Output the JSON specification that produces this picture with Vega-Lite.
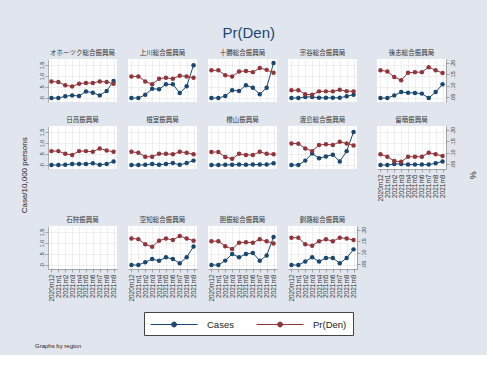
{
  "$schema": "https://vega.github.io/schema/vega-lite/v6.json",
  "background": "#E1E6EE",
  "padding": {"left": 20, "top": 25, "right": 10, "bottom": 6},
  "title": {"text": "Graphs by region", "orient": "bottom", "anchor": "start", "frame": "bounds", "fontSize": 6, "font": "Liberation Sans", "color": "#222", "offset": 7, "dx": 14},
  "data": {"values": [
    {"region":"オホーツク総合振興局","period":"2020m12","cases":0,"pden":0.119},
    {"region":"オホーツク総合振興局","period":"2021m1","cases":0,"pden":0.116},
    {"region":"オホーツク総合振興局","period":"2021m2","cases":0.08,"pden":0.102},
    {"region":"オホーツク総合振興局","period":"2021m3","cases":0.12,"pden":0.097},
    {"region":"オホーツク総合振興局","period":"2021m4","cases":0.09,"pden":0.109},
    {"region":"オホーツク総合振興局","period":"2021m5","cases":0.3,"pden":0.112},
    {"region":"オホーツク総合振興局","period":"2021m6","cases":0.24,"pden":0.112},
    {"region":"オホーツク総合振興局","period":"2021m7","cases":0.12,"pden":0.119},
    {"region":"オホーツク総合振興局","period":"2021m8","cases":0.32,"pden":0.116},
    {"region":"オホーツク総合振興局","period":"2021m9","cases":0.77,"pden":0.109},
    {"region":"上川総合振興局","period":"2020m12","cases":0,"pden":0.141},
    {"region":"上川総合振興局","period":"2021m1","cases":0,"pden":0.141},
    {"region":"上川総合振興局","period":"2021m2","cases":0.15,"pden":0.119},
    {"region":"上川総合振興局","period":"2021m3","cases":0.42,"pden":0.106},
    {"region":"上川総合振興局","period":"2021m4","cases":0.4,"pden":0.131},
    {"region":"上川総合振興局","period":"2021m5","cases":0.62,"pden":0.135},
    {"region":"上川総合振興局","period":"2021m6","cases":0.62,"pden":0.131},
    {"region":"上川総合振興局","period":"2021m7","cases":0.23,"pden":0.144},
    {"region":"上川総合振興局","period":"2021m8","cases":0.53,"pden":0.141},
    {"region":"上川総合振興局","period":"2021m9","cases":1.49,"pden":0.135},
    {"region":"十勝総合振興局","period":"2020m12","cases":0,"pden":0.168},
    {"region":"十勝総合振興局","period":"2021m1","cases":0,"pden":0.168},
    {"region":"十勝総合振興局","period":"2021m2","cases":0.09,"pden":0.146},
    {"region":"十勝総合振興局","period":"2021m3","cases":0.35,"pden":0.141},
    {"region":"十勝総合振興局","period":"2021m4","cases":0.32,"pden":0.163},
    {"region":"十勝総合振興局","period":"2021m5","cases":0.58,"pden":0.165},
    {"region":"十勝総合振興局","period":"2021m6","cases":0.47,"pden":0.16},
    {"region":"十勝総合振興局","period":"2021m7","cases":0.17,"pden":0.178},
    {"region":"十勝総合振興局","period":"2021m8","cases":0.47,"pden":0.17},
    {"region":"十勝総合振興局","period":"2021m9","cases":1.59,"pden":0.157},
    {"region":"宗谷総合振興局","period":"2020m12","cases":0,"pden":0.08},
    {"region":"宗谷総合振興局","period":"2021m1","cases":0,"pden":0.08},
    {"region":"宗谷総合振興局","period":"2021m2","cases":0.05,"pden":0.062},
    {"region":"宗谷総合振興局","period":"2021m3","cases":0.05,"pden":0.06},
    {"region":"宗谷総合振興局","period":"2021m4","cases":0.01,"pden":0.075},
    {"region":"宗谷総合振興局","period":"2021m5","cases":0.01,"pden":0.075},
    {"region":"宗谷総合振興局","period":"2021m6","cases":0.01,"pden":0.075},
    {"region":"宗谷総合振興局","period":"2021m7","cases":0.01,"pden":0.082},
    {"region":"宗谷総合振興局","period":"2021m8","cases":0.08,"pden":0.076},
    {"region":"宗谷総合振興局","period":"2021m9","cases":0.15,"pden":0.075},
    {"region":"後志総合振興局","period":"2020m12","cases":0,"pden":0.168},
    {"region":"後志総合振興局","period":"2021m1","cases":0,"pden":0.163},
    {"region":"後志総合振興局","period":"2021m2","cases":0.12,"pden":0.138},
    {"region":"後志総合振興局","period":"2021m3","cases":0.27,"pden":0.124},
    {"region":"後志総合振興局","period":"2021m4","cases":0.24,"pden":0.157},
    {"region":"後志総合振興局","period":"2021m5","cases":0.23,"pden":0.16},
    {"region":"後志総合振興局","period":"2021m6","cases":0.2,"pden":0.16},
    {"region":"後志総合振興局","period":"2021m7","cases":0,"pden":0.182},
    {"region":"後志総合振興局","period":"2021m8","cases":0.27,"pden":0.168},
    {"region":"後志総合振興局","period":"2021m9","cases":0.62,"pden":0.156},
    {"region":"日高振興局","period":"2020m12","cases":0,"pden":0.107},
    {"region":"日高振興局","period":"2021m1","cases":0,"pden":0.107},
    {"region":"日高振興局","period":"2021m2","cases":0.01,"pden":0.095},
    {"region":"日高振興局","period":"2021m3","cases":0.05,"pden":0.09},
    {"region":"日高振興局","period":"2021m4","cases":0.05,"pden":0.107},
    {"region":"日高振興局","period":"2021m5","cases":0.05,"pden":0.107},
    {"region":"日高振興局","period":"2021m6","cases":0.08,"pden":0.104},
    {"region":"日高振興局","period":"2021m7","cases":0.01,"pden":0.119},
    {"region":"日高振興局","period":"2021m8","cases":0.05,"pden":0.11},
    {"region":"日高振興局","period":"2021m9","cases":0.16,"pden":0.104},
    {"region":"根室振興局","period":"2020m12","cases":0,"pden":0.104},
    {"region":"根室振興局","period":"2021m1","cases":0,"pden":0.1},
    {"region":"根室振興局","period":"2021m2","cases":0.01,"pden":0.082},
    {"region":"根室振興局","period":"2021m3","cases":0.05,"pden":0.082},
    {"region":"根室振興局","period":"2021m4","cases":0.01,"pden":0.095},
    {"region":"根室振興局","period":"2021m5","cases":0.05,"pden":0.095},
    {"region":"根室振興局","period":"2021m6","cases":0.09,"pden":0.093},
    {"region":"根室振興局","period":"2021m7","cases":0.01,"pden":0.104},
    {"region":"根室振興局","period":"2021m8","cases":0.09,"pden":0.1},
    {"region":"根室振興局","period":"2021m9","cases":0.2,"pden":0.093},
    {"region":"檜山振興局","period":"2020m12","cases":0,"pden":0.103},
    {"region":"檜山振興局","period":"2021m1","cases":0,"pden":0.103},
    {"region":"檜山振興局","period":"2021m2","cases":0.01,"pden":0.081},
    {"region":"檜山振興局","period":"2021m3","cases":0.01,"pden":0.073},
    {"region":"檜山振興局","period":"2021m4","cases":0.02,"pden":0.095},
    {"region":"檜山振興局","period":"2021m5","cases":0.01,"pden":0.09},
    {"region":"檜山振興局","period":"2021m6","cases":0.02,"pden":0.09},
    {"region":"檜山振興局","period":"2021m7","cases":0.02,"pden":0.104},
    {"region":"檜山振興局","period":"2021m8","cases":0.02,"pden":0.095},
    {"region":"檜山振興局","period":"2021m9","cases":0.08,"pden":0.093},
    {"region":"渡島総合振興局","period":"2020m12","cases":0,"pden":0.141},
    {"region":"渡島総合振興局","period":"2021m1","cases":0,"pden":0.14},
    {"region":"渡島総合振興局","period":"2021m2","cases":0.2,"pden":0.119},
    {"region":"渡島総合振興局","period":"2021m3","cases":0.52,"pden":0.107},
    {"region":"渡島総合振興局","period":"2021m4","cases":0.31,"pden":0.134},
    {"region":"渡島総合振興局","period":"2021m5","cases":0.39,"pden":0.137},
    {"region":"渡島総合振興局","period":"2021m6","cases":0.47,"pden":0.134},
    {"region":"渡島総合振興局","period":"2021m7","cases":0.16,"pden":0.148},
    {"region":"渡島総合振興局","period":"2021m8","cases":0.63,"pden":0.141},
    {"region":"渡島総合振興局","period":"2021m9","cases":1.5,"pden":0.132},
    {"region":"留萌振興局","period":"2020m12","cases":0,"pden":0.093},
    {"region":"留萌振興局","period":"2021m1","cases":0,"pden":0.082},
    {"region":"留萌振興局","period":"2021m2","cases":0.05,"pden":0.063},
    {"region":"留萌振興局","period":"2021m3","cases":0.05,"pden":0.06},
    {"region":"留萌振興局","period":"2021m4","cases":0.02,"pden":0.082},
    {"region":"留萌振興局","period":"2021m5","cases":0.02,"pden":0.082},
    {"region":"留萌振興局","period":"2021m6","cases":0.02,"pden":0.082},
    {"region":"留萌振興局","period":"2021m7","cases":0.02,"pden":0.1},
    {"region":"留萌振興局","period":"2021m8","cases":0.08,"pden":0.093},
    {"region":"留萌振興局","period":"2021m9","cases":0.16,"pden":0.085},
    {"region":"空知総合振興局","period":"2020m12","cases":0,"pden":0.163},
    {"region":"空知総合振興局","period":"2021m1","cases":0,"pden":0.16},
    {"region":"空知総合振興局","period":"2021m2","cases":0.13,"pden":0.137},
    {"region":"空知総合振興局","period":"2021m3","cases":0.27,"pden":0.126},
    {"region":"空知総合振興局","period":"2021m4","cases":0.19,"pden":0.153},
    {"region":"空知総合振興局","period":"2021m5","cases":0.35,"pden":0.163},
    {"region":"空知総合振興局","period":"2021m6","cases":0.27,"pden":0.156},
    {"region":"空知総合振興局","period":"2021m7","cases":0.08,"pden":0.174},
    {"region":"空知総合振興局","period":"2021m8","cases":0.35,"pden":0.163},
    {"region":"空知総合振興局","period":"2021m9","cases":0.84,"pden":0.153},
    {"region":"胆振総合振興局","period":"2020m12","cases":0,"pden":0.151},
    {"region":"胆振総合振興局","period":"2021m1","cases":0,"pden":0.151},
    {"region":"胆振総合振興局","period":"2021m2","cases":0.2,"pden":0.129},
    {"region":"胆振総合振興局","period":"2021m3","cases":0.5,"pden":0.116},
    {"region":"胆振総合振興局","period":"2021m4","cases":0.35,"pden":0.144},
    {"region":"胆振総合振興局","period":"2021m5","cases":0.5,"pden":0.146},
    {"region":"胆振総合振興局","period":"2021m6","cases":0.55,"pden":0.144},
    {"region":"胆振総合振興局","period":"2021m7","cases":0.19,"pden":0.159},
    {"region":"胆振総合振興局","period":"2021m8","cases":0.43,"pden":0.151},
    {"region":"胆振総合振興局","period":"2021m9","cases":1.27,"pden":0.141},
    {"region":"釧路総合振興局","period":"2020m12","cases":0,"pden":0.166},
    {"region":"釧路総合振興局","period":"2021m1","cases":0,"pden":0.166},
    {"region":"釧路総合振興局","period":"2021m2","cases":0.16,"pden":0.137},
    {"region":"釧路総合振興局","period":"2021m3","cases":0.35,"pden":0.131},
    {"region":"釧路総合振興局","period":"2021m4","cases":0.16,"pden":0.151},
    {"region":"釧路総合振興局","period":"2021m5","cases":0.32,"pden":0.159},
    {"region":"釧路総合振興局","period":"2021m6","cases":0.32,"pden":0.151},
    {"region":"釧路総合振興局","period":"2021m7","cases":0.08,"pden":0.166},
    {"region":"釧路総合振興局","period":"2021m8","cases":0.32,"pden":0.163},
    {"region":"釧路総合振興局","period":"2021m9","cases":0.71,"pden":0.156}
  ]},
  "vconcat": [{
    "title": {"text": "Pr(Den)", "anchor": "middle", "frame": "bounds", "fontSize": 15, "font": "Liberation Sans", "color": "#1a476f", "offset": 9},
    "vconcat": [{
      "title": {"text": "%", "orient": "right", "anchor": "middle", "frame": "bounds", "fontSize": 9, "font": "Liberation Sans", "color": "#222", "offset": 12},
      "vconcat": [{
        "title": {"text": "Case/10,000 persons", "orient": "left", "anchor": "middle", "frame": "bounds", "fontSize": 8, "font": "Liberation Sans", "color": "#222", "offset": 10},
        "columns": 5,
        "spacing": {"column": 10, "row": 14},
        "concat": [
          {"title": "オホーツク総合振興局", "transform": [{"filter": "datum.region == 'オホーツク総合振興局'"}], "width": 69, "height": 43, "resolve": {"scale": {"y": "independent"}},
           "layer": [
            {"mark": {"type": "line", "strokeWidth": 1, "point": {"filled": true, "size": 20}}, "encoding": {
              "x": {"field": "period", "type": "ordinal", "scale": {"domain": ["2020m12","2021m1","2021m2","2021m3","2021m4","2021m5","2021m6","2021m7","2021m8","2021m9"], "padding": 0.5}, "axis": {"title": null, "labels": false, "ticks": false, "domain": false, "grid": true}},
              "y": {"field": "cases", "type": "quantitative", "scale": {"domain": [-0.18, 1.77], "nice": false, "zero": false}, "axis": {"title": null, "values": [0, 0.5, 1, 1.5], "labelAngle": -90, "labelExpr": "replace(datum.label, '0.', '.')", "grid": true}},
              "color": {"datum": "Cases", "type": "nominal", "legend": {"title": null}}}},
            {"mark": {"type": "line", "strokeWidth": 1, "point": {"filled": true, "size": 20}}, "encoding": {
              "x": {"field": "period", "type": "ordinal"},
              "y": {"field": "pden", "type": "quantitative", "scale": {"domain": [0.028, 0.218], "nice": false, "zero": false}, "axis": null},
              "color": {"datum": "Pr(Den)", "type": "nominal", "legend": {"title": null}}}}
          ]},
          {"title": "上川総合振興局", "transform": [{"filter": "datum.region == '上川総合振興局'"}], "width": 69, "height": 43, "resolve": {"scale": {"y": "independent"}},
           "layer": [
            {"mark": {"type": "line", "strokeWidth": 1, "point": {"filled": true, "size": 20}}, "encoding": {
              "x": {"field": "period", "type": "ordinal", "scale": {"domain": ["2020m12","2021m1","2021m2","2021m3","2021m4","2021m5","2021m6","2021m7","2021m8","2021m9"], "padding": 0.5}, "axis": {"title": null, "labels": false, "ticks": false, "domain": false, "grid": true}},
              "y": {"field": "cases", "type": "quantitative", "scale": {"domain": [-0.18, 1.77], "nice": false, "zero": false}, "axis": {"title": null, "values": [0, 0.5, 1, 1.5], "labels": false, "ticks": false, "domain": false, "grid": true}},
              "color": {"datum": "Cases", "type": "nominal", "legend": {"title": null}}}},
            {"mark": {"type": "line", "strokeWidth": 1, "point": {"filled": true, "size": 20}}, "encoding": {
              "x": {"field": "period", "type": "ordinal"},
              "y": {"field": "pden", "type": "quantitative", "scale": {"domain": [0.028, 0.218], "nice": false, "zero": false}, "axis": null},
              "color": {"datum": "Pr(Den)", "type": "nominal", "legend": {"title": null}}}}
          ]},
          {"title": "十勝総合振興局", "transform": [{"filter": "datum.region == '十勝総合振興局'"}], "width": 69, "height": 43, "resolve": {"scale": {"y": "independent"}},
           "layer": [
            {"mark": {"type": "line", "strokeWidth": 1, "point": {"filled": true, "size": 20}}, "encoding": {
              "x": {"field": "period", "type": "ordinal", "scale": {"domain": ["2020m12","2021m1","2021m2","2021m3","2021m4","2021m5","2021m6","2021m7","2021m8","2021m9"], "padding": 0.5}, "axis": {"title": null, "labels": false, "ticks": false, "domain": false, "grid": true}},
              "y": {"field": "cases", "type": "quantitative", "scale": {"domain": [-0.18, 1.77], "nice": false, "zero": false}, "axis": {"title": null, "values": [0, 0.5, 1, 1.5], "labels": false, "ticks": false, "domain": false, "grid": true}},
              "color": {"datum": "Cases", "type": "nominal", "legend": {"title": null}}}},
            {"mark": {"type": "line", "strokeWidth": 1, "point": {"filled": true, "size": 20}}, "encoding": {
              "x": {"field": "period", "type": "ordinal"},
              "y": {"field": "pden", "type": "quantitative", "scale": {"domain": [0.028, 0.218], "nice": false, "zero": false}, "axis": null},
              "color": {"datum": "Pr(Den)", "type": "nominal", "legend": {"title": null}}}}
          ]},
          {"title": "宗谷総合振興局", "transform": [{"filter": "datum.region == '宗谷総合振興局'"}], "width": 69, "height": 43, "resolve": {"scale": {"y": "independent"}},
           "layer": [
            {"mark": {"type": "line", "strokeWidth": 1, "point": {"filled": true, "size": 20}}, "encoding": {
              "x": {"field": "period", "type": "ordinal", "scale": {"domain": ["2020m12","2021m1","2021m2","2021m3","2021m4","2021m5","2021m6","2021m7","2021m8","2021m9"], "padding": 0.5}, "axis": {"title": null, "labels": false, "ticks": false, "domain": false, "grid": true}},
              "y": {"field": "cases", "type": "quantitative", "scale": {"domain": [-0.18, 1.77], "nice": false, "zero": false}, "axis": {"title": null, "values": [0, 0.5, 1, 1.5], "labels": false, "ticks": false, "domain": false, "grid": true}},
              "color": {"datum": "Cases", "type": "nominal", "legend": {"title": null}}}},
            {"mark": {"type": "line", "strokeWidth": 1, "point": {"filled": true, "size": 20}}, "encoding": {
              "x": {"field": "period", "type": "ordinal"},
              "y": {"field": "pden", "type": "quantitative", "scale": {"domain": [0.028, 0.218], "nice": false, "zero": false}, "axis": null},
              "color": {"datum": "Pr(Den)", "type": "nominal", "legend": {"title": null}}}}
          ]},
          {"title": "後志総合振興局", "transform": [{"filter": "datum.region == '後志総合振興局'"}], "width": 69, "height": 43, "resolve": {"scale": {"y": "independent"}},
           "layer": [
            {"mark": {"type": "line", "strokeWidth": 1, "point": {"filled": true, "size": 20}}, "encoding": {
              "x": {"field": "period", "type": "ordinal", "scale": {"domain": ["2020m12","2021m1","2021m2","2021m3","2021m4","2021m5","2021m6","2021m7","2021m8","2021m9"], "padding": 0.5}, "axis": {"title": null, "labels": false, "ticks": false, "domain": false, "grid": true}},
              "y": {"field": "cases", "type": "quantitative", "scale": {"domain": [-0.18, 1.77], "nice": false, "zero": false}, "axis": {"title": null, "values": [0, 0.5, 1, 1.5], "labels": false, "ticks": false, "domain": false, "grid": true}},
              "color": {"datum": "Cases", "type": "nominal", "legend": {"title": null}}}},
            {"mark": {"type": "line", "strokeWidth": 1, "point": {"filled": true, "size": 20}}, "encoding": {
              "x": {"field": "period", "type": "ordinal"},
              "y": {"field": "pden", "type": "quantitative", "scale": {"domain": [0.028, 0.218], "nice": false, "zero": false}, "axis": {"title": null, "orient": "right", "values": [0.05, 0.1, 0.15, 0.2], "labelAngle": -90, "labelExpr": "replace(datum.label, '0.', '.')", "grid": false}},
              "color": {"datum": "Pr(Den)", "type": "nominal", "legend": {"title": null}}}}
          ]},
          {"title": "日高振興局", "transform": [{"filter": "datum.region == '日高振興局'"}], "width": 69, "height": 43, "resolve": {"scale": {"y": "independent"}},
           "layer": [
            {"mark": {"type": "line", "strokeWidth": 1, "point": {"filled": true, "size": 20}}, "encoding": {
              "x": {"field": "period", "type": "ordinal", "scale": {"domain": ["2020m12","2021m1","2021m2","2021m3","2021m4","2021m5","2021m6","2021m7","2021m8","2021m9"], "padding": 0.5}, "axis": {"title": null, "labels": false, "ticks": false, "domain": false, "grid": true}},
              "y": {"field": "cases", "type": "quantitative", "scale": {"domain": [-0.18, 1.77], "nice": false, "zero": false}, "axis": {"title": null, "values": [0, 0.5, 1, 1.5], "labelAngle": -90, "labelExpr": "replace(datum.label, '0.', '.')", "grid": true}},
              "color": {"datum": "Cases", "type": "nominal", "legend": {"title": null}}}},
            {"mark": {"type": "line", "strokeWidth": 1, "point": {"filled": true, "size": 20}}, "encoding": {
              "x": {"field": "period", "type": "ordinal"},
              "y": {"field": "pden", "type": "quantitative", "scale": {"domain": [0.028, 0.218], "nice": false, "zero": false}, "axis": null},
              "color": {"datum": "Pr(Den)", "type": "nominal", "legend": {"title": null}}}}
          ]},
          {"title": "根室振興局", "transform": [{"filter": "datum.region == '根室振興局'"}], "width": 69, "height": 43, "resolve": {"scale": {"y": "independent"}},
           "layer": [
            {"mark": {"type": "line", "strokeWidth": 1, "point": {"filled": true, "size": 20}}, "encoding": {
              "x": {"field": "period", "type": "ordinal", "scale": {"domain": ["2020m12","2021m1","2021m2","2021m3","2021m4","2021m5","2021m6","2021m7","2021m8","2021m9"], "padding": 0.5}, "axis": {"title": null, "labels": false, "ticks": false, "domain": false, "grid": true}},
              "y": {"field": "cases", "type": "quantitative", "scale": {"domain": [-0.18, 1.77], "nice": false, "zero": false}, "axis": {"title": null, "values": [0, 0.5, 1, 1.5], "labels": false, "ticks": false, "domain": false, "grid": true}},
              "color": {"datum": "Cases", "type": "nominal", "legend": {"title": null}}}},
            {"mark": {"type": "line", "strokeWidth": 1, "point": {"filled": true, "size": 20}}, "encoding": {
              "x": {"field": "period", "type": "ordinal"},
              "y": {"field": "pden", "type": "quantitative", "scale": {"domain": [0.028, 0.218], "nice": false, "zero": false}, "axis": null},
              "color": {"datum": "Pr(Den)", "type": "nominal", "legend": {"title": null}}}}
          ]},
          {"title": "檜山振興局", "transform": [{"filter": "datum.region == '檜山振興局'"}], "width": 69, "height": 43, "resolve": {"scale": {"y": "independent"}},
           "layer": [
            {"mark": {"type": "line", "strokeWidth": 1, "point": {"filled": true, "size": 20}}, "encoding": {
              "x": {"field": "period", "type": "ordinal", "scale": {"domain": ["2020m12","2021m1","2021m2","2021m3","2021m4","2021m5","2021m6","2021m7","2021m8","2021m9"], "padding": 0.5}, "axis": {"title": null, "labels": false, "ticks": false, "domain": false, "grid": true}},
              "y": {"field": "cases", "type": "quantitative", "scale": {"domain": [-0.18, 1.77], "nice": false, "zero": false}, "axis": {"title": null, "values": [0, 0.5, 1, 1.5], "labels": false, "ticks": false, "domain": false, "grid": true}},
              "color": {"datum": "Cases", "type": "nominal", "legend": {"title": null}}}},
            {"mark": {"type": "line", "strokeWidth": 1, "point": {"filled": true, "size": 20}}, "encoding": {
              "x": {"field": "period", "type": "ordinal"},
              "y": {"field": "pden", "type": "quantitative", "scale": {"domain": [0.028, 0.218], "nice": false, "zero": false}, "axis": null},
              "color": {"datum": "Pr(Den)", "type": "nominal", "legend": {"title": null}}}}
          ]},
          {"title": "渡島総合振興局", "transform": [{"filter": "datum.region == '渡島総合振興局'"}], "width": 69, "height": 43, "resolve": {"scale": {"y": "independent"}},
           "layer": [
            {"mark": {"type": "line", "strokeWidth": 1, "point": {"filled": true, "size": 20}}, "encoding": {
              "x": {"field": "period", "type": "ordinal", "scale": {"domain": ["2020m12","2021m1","2021m2","2021m3","2021m4","2021m5","2021m6","2021m7","2021m8","2021m9"], "padding": 0.5}, "axis": {"title": null, "labels": false, "ticks": false, "domain": false, "grid": true}},
              "y": {"field": "cases", "type": "quantitative", "scale": {"domain": [-0.18, 1.77], "nice": false, "zero": false}, "axis": {"title": null, "values": [0, 0.5, 1, 1.5], "labels": false, "ticks": false, "domain": false, "grid": true}},
              "color": {"datum": "Cases", "type": "nominal", "legend": {"title": null}}}},
            {"mark": {"type": "line", "strokeWidth": 1, "point": {"filled": true, "size": 20}}, "encoding": {
              "x": {"field": "period", "type": "ordinal"},
              "y": {"field": "pden", "type": "quantitative", "scale": {"domain": [0.028, 0.218], "nice": false, "zero": false}, "axis": null},
              "color": {"datum": "Pr(Den)", "type": "nominal", "legend": {"title": null}}}}
          ]},
          {"title": "留萌振興局", "transform": [{"filter": "datum.region == '留萌振興局'"}], "width": 69, "height": 43, "resolve": {"scale": {"y": "independent"}},
           "layer": [
            {"mark": {"type": "line", "strokeWidth": 1, "point": {"filled": true, "size": 20}}, "encoding": {
              "x": {"field": "period", "type": "ordinal", "scale": {"domain": ["2020m12","2021m1","2021m2","2021m3","2021m4","2021m5","2021m6","2021m7","2021m8","2021m9"], "padding": 0.5}, "axis": {"title": null, "labelAngle": -90, "labelFontSize": 6.5, "labelPadding": 2, "grid": true}},
              "y": {"field": "cases", "type": "quantitative", "scale": {"domain": [-0.18, 1.77], "nice": false, "zero": false}, "axis": {"title": null, "values": [0, 0.5, 1, 1.5], "labels": false, "ticks": false, "domain": false, "grid": true}},
              "color": {"datum": "Cases", "type": "nominal", "legend": {"title": null}}}},
            {"mark": {"type": "line", "strokeWidth": 1, "point": {"filled": true, "size": 20}}, "encoding": {
              "x": {"field": "period", "type": "ordinal"},
              "y": {"field": "pden", "type": "quantitative", "scale": {"domain": [0.028, 0.218], "nice": false, "zero": false}, "axis": {"title": null, "orient": "right", "values": [0.05, 0.1, 0.15, 0.2], "labelAngle": -90, "labelExpr": "replace(datum.label, '0.', '.')", "grid": false}},
              "color": {"datum": "Pr(Den)", "type": "nominal", "legend": {"title": null}}}}
          ]},
          {"title": "石狩振興局", "transform": [{"filter": "datum.region == '石狩振興局'"}], "width": 69, "height": 43, "resolve": {"scale": {"y": "independent"}},
           "layer": [
            {"mark": {"type": "line", "strokeWidth": 1, "point": {"filled": true, "size": 20}}, "encoding": {
              "x": {"field": "period", "type": "ordinal", "scale": {"domain": ["2020m12","2021m1","2021m2","2021m3","2021m4","2021m5","2021m6","2021m7","2021m8","2021m9"], "padding": 0.5}, "axis": {"title": null, "labelAngle": -90, "labelFontSize": 6.5, "labelPadding": 2, "grid": true}},
              "y": {"field": "cases", "type": "quantitative", "scale": {"domain": [-0.18, 1.77], "nice": false, "zero": false}, "axis": {"title": null, "values": [0, 0.5, 1, 1.5], "labelAngle": -90, "labelExpr": "replace(datum.label, '0.', '.')", "grid": true}},
              "color": {"datum": "Cases", "type": "nominal", "legend": {"title": null}}}},
            {"mark": {"type": "line", "strokeWidth": 1, "point": {"filled": true, "size": 20}}, "encoding": {
              "x": {"field": "period", "type": "ordinal"},
              "y": {"field": "pden", "type": "quantitative", "scale": {"domain": [0.028, 0.218], "nice": false, "zero": false}, "axis": null},
              "color": {"datum": "Pr(Den)", "type": "nominal", "legend": {"title": null}}}}
          ]},
          {"title": "空知総合振興局", "transform": [{"filter": "datum.region == '空知総合振興局'"}], "width": 69, "height": 43, "resolve": {"scale": {"y": "independent"}},
           "layer": [
            {"mark": {"type": "line", "strokeWidth": 1, "point": {"filled": true, "size": 20}}, "encoding": {
              "x": {"field": "period", "type": "ordinal", "scale": {"domain": ["2020m12","2021m1","2021m2","2021m3","2021m4","2021m5","2021m6","2021m7","2021m8","2021m9"], "padding": 0.5}, "axis": {"title": null, "labelAngle": -90, "labelFontSize": 6.5, "labelPadding": 2, "grid": true}},
              "y": {"field": "cases", "type": "quantitative", "scale": {"domain": [-0.18, 1.77], "nice": false, "zero": false}, "axis": {"title": null, "values": [0, 0.5, 1, 1.5], "labels": false, "ticks": false, "domain": false, "grid": true}},
              "color": {"datum": "Cases", "type": "nominal", "legend": {"title": null}}}},
            {"mark": {"type": "line", "strokeWidth": 1, "point": {"filled": true, "size": 20}}, "encoding": {
              "x": {"field": "period", "type": "ordinal"},
              "y": {"field": "pden", "type": "quantitative", "scale": {"domain": [0.028, 0.218], "nice": false, "zero": false}, "axis": null},
              "color": {"datum": "Pr(Den)", "type": "nominal", "legend": {"title": null}}}}
          ]},
          {"title": "胆振総合振興局", "transform": [{"filter": "datum.region == '胆振総合振興局'"}], "width": 69, "height": 43, "resolve": {"scale": {"y": "independent"}},
           "layer": [
            {"mark": {"type": "line", "strokeWidth": 1, "point": {"filled": true, "size": 20}}, "encoding": {
              "x": {"field": "period", "type": "ordinal", "scale": {"domain": ["2020m12","2021m1","2021m2","2021m3","2021m4","2021m5","2021m6","2021m7","2021m8","2021m9"], "padding": 0.5}, "axis": {"title": null, "labelAngle": -90, "labelFontSize": 6.5, "labelPadding": 2, "grid": true}},
              "y": {"field": "cases", "type": "quantitative", "scale": {"domain": [-0.18, 1.77], "nice": false, "zero": false}, "axis": {"title": null, "values": [0, 0.5, 1, 1.5], "labels": false, "ticks": false, "domain": false, "grid": true}},
              "color": {"datum": "Cases", "type": "nominal", "legend": {"title": null}}}},
            {"mark": {"type": "line", "strokeWidth": 1, "point": {"filled": true, "size": 20}}, "encoding": {
              "x": {"field": "period", "type": "ordinal"},
              "y": {"field": "pden", "type": "quantitative", "scale": {"domain": [0.028, 0.218], "nice": false, "zero": false}, "axis": null},
              "color": {"datum": "Pr(Den)", "type": "nominal", "legend": {"title": null}}}}
          ]},
          {"title": "釧路総合振興局", "transform": [{"filter": "datum.region == '釧路総合振興局'"}], "width": 69, "height": 43, "resolve": {"scale": {"y": "independent"}},
           "layer": [
            {"mark": {"type": "line", "strokeWidth": 1, "point": {"filled": true, "size": 20}}, "encoding": {
              "x": {"field": "period", "type": "ordinal", "scale": {"domain": ["2020m12","2021m1","2021m2","2021m3","2021m4","2021m5","2021m6","2021m7","2021m8","2021m9"], "padding": 0.5}, "axis": {"title": null, "labelAngle": -90, "labelFontSize": 6.5, "labelPadding": 2, "grid": true}},
              "y": {"field": "cases", "type": "quantitative", "scale": {"domain": [-0.18, 1.77], "nice": false, "zero": false}, "axis": {"title": null, "values": [0, 0.5, 1, 1.5], "labels": false, "ticks": false, "domain": false, "grid": true}},
              "color": {"datum": "Cases", "type": "nominal", "legend": {"title": null}}}},
            {"mark": {"type": "line", "strokeWidth": 1, "point": {"filled": true, "size": 20}}, "encoding": {
              "x": {"field": "period", "type": "ordinal"},
              "y": {"field": "pden", "type": "quantitative", "scale": {"domain": [0.028, 0.218], "nice": false, "zero": false}, "axis": {"title": null, "orient": "right", "values": [0.05, 0.1, 0.15, 0.2], "labelAngle": -90, "labelExpr": "replace(datum.label, '0.', '.')", "grid": false}},
              "color": {"datum": "Pr(Den)", "type": "nominal", "legend": {"title": null}}}}
          ]}
        ]
      }]
    }]
  }],
  "config": {
    "font": "Liberation Sans",
    "view": {"fill": "white", "stroke": null},
    "range": {"category": ["#1a476f", "#90353b"]},
    "title": {"fontSize": 6.5, "font": "Noto Sans CJK JP", "fontWeight": "normal", "color": "#333", "offset": 3, "frame": "group"},
    "axis": {"labelFontSize": 5.5, "labelColor": "#333", "tickColor": "#777", "domainColor": "#777", "tickSize": 3, "tickWidth": 0.6, "domainWidth": 0.6, "gridColor": "#e4e4e4", "gridWidth": 0.6, "labelPadding": 1},
    "legend": {"orient": "bottom", "direction": "horizontal", "strokeColor": "#444", "fillColor": "white", "padding": 6, "symbolType": "M-1,0L7,0M3.42,0A0.42,0.42,0,1,1,2.58,0A0.42,0.42,0,1,1,3.42,0Z", "symbolSize": 138, "symbolStrokeWidth": 1, "labelFontSize": 9.5, "labelColor": "#222", "labelOffset": 44, "columnPadding": 20, "offset": 10, "layout": {"bottom": {"anchor": "middle"}}}
  }
}
